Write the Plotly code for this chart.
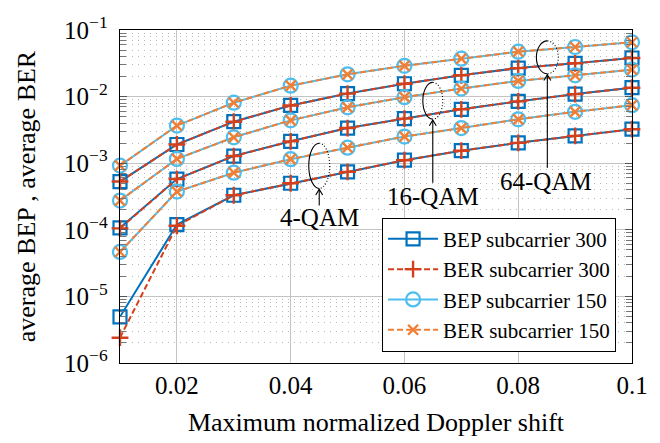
import plotly.graph_objects as go

# ---------------- data ----------------
doppler = [0.01, 0.02, 0.03, 0.04, 0.05, 0.06, 0.07, 0.08, 0.09, 0.10]

bep300_4qam = [4.94e-6, 1.20e-4, 3.30e-4, 5.0e-4, 7.4e-4, 1.11e-3, 1.54e-3, 2.02e-3, 2.57e-3, 3.24e-3]
ber300_4qam = [2.40e-6, 1.15e-4, 3.30e-4, 5.0e-4, 7.4e-4, 1.11e-3, 1.54e-3, 2.02e-3, 2.57e-3, 3.24e-3]
bep150_4qam = [4.65e-5, 3.75e-4, 7.2e-4, 1.15e-3, 1.71e-3, 2.51e-3, 3.37e-3, 4.56e-3, 5.91e-3, 7.43e-3]
ber150_4qam = [4.65e-5, 3.75e-4, 7.2e-4, 1.15e-3, 1.71e-3, 2.51e-3, 3.37e-3, 4.56e-3, 5.91e-3, 7.43e-3]

bep300_16qam = [1.07e-4, 5.78e-4, 1.28e-3, 2.13e-3, 3.37e-3, 4.67e-3, 6.45e-3, 8.47e-3, 1.09e-2, 1.36e-2]
ber300_16qam = [1.05e-4, 5.78e-4, 1.28e-3, 2.13e-3, 3.37e-3, 4.67e-3, 6.45e-3, 8.47e-3, 1.09e-2, 1.36e-2]
bep150_16qam = [2.75e-4, 1.16e-3, 2.45e-3, 4.4e-3, 6.9e-3, 9.8e-3, 1.32e-2, 1.72e-2, 2.09e-2, 2.54e-2]
ber150_16qam = [2.75e-4, 1.16e-3, 2.45e-3, 4.4e-3, 6.9e-3, 9.8e-3, 1.32e-2, 1.72e-2, 2.09e-2, 2.54e-2]

bep300_64qam = [5.3e-4, 1.91e-3, 4.2e-3, 7.36e-3, 1.11e-2, 1.56e-2, 2.09e-2, 2.68e-2, 3.16e-2, 3.8e-2]
ber300_64qam = [5.3e-4, 1.91e-3, 4.2e-3, 7.36e-3, 1.11e-2, 1.56e-2, 2.09e-2, 2.68e-2, 3.16e-2, 3.8e-2]
bep150_64qam = [9.2e-4, 3.67e-3, 8.1e-3, 1.46e-2, 2.16e-2, 2.9e-2, 3.71e-2, 4.72e-2, 5.56e-2, 6.55e-2]
ber150_64qam = [9.2e-4, 3.67e-3, 8.1e-3, 1.46e-2, 2.16e-2, 2.9e-2, 3.71e-2, 4.72e-2, 5.56e-2, 6.55e-2]

x_tickvals = [0.02, 0.04, 0.06, 0.08, 0.1]
x_ticktext = ["0.02", "0.04", "0.06", "0.08", "0.1"]
y_tickvals = [1e-6, 1e-5, 1e-4, 1e-3, 1e-2, 1e-1]
y_ticktext = ["10<sup>−6</sup>\u2005", "10<sup>−5</sup>\u2005", "10<sup>−4</sup>\u2005",
              "10<sup>−3</sup>\u2005", "10<sup>−2</sup>\u2005", "10<sup>−1</sup>\u2005"]

legend_names = ["BEP subcarrier 300", "BER subcarrier 300",
                "BEP subcarrier 150", "BER subcarrier 150"]
qam_labels = ["4-QAM", "16-QAM", "64-QAM"]

# ---------------- styles ----------------
FONT = "Liberation Serif"
C_BEP300 = "#0072BD"
C_BER300 = "#D4401C"
C_BEP150 = "#4DBEEE"
C_BER150 = "#F07F35"

series = [
    (legend_names[0], [bep300_4qam, bep300_16qam, bep300_64qam], C_BEP300, "solid", "square-open", 13, 2.2),
    (legend_names[1], [ber300_4qam, ber300_16qam, ber300_64qam], C_BER300, "6px,3px", "cross-thin-open", 12, 2.4),
    (legend_names[2], [bep150_4qam, bep150_16qam, bep150_64qam], C_BEP150, "solid", "circle-open", 14, 2.2),
    (legend_names[3], [ber150_4qam, ber150_16qam, ber150_64qam], C_BER150, "6px,3px", "x-thin-open", 10, 2.4),
]

fig = go.Figure()
for name, groups, color, dash, symbol, msize, mlw in series:
    for i, ys in enumerate(groups):
        fig.add_trace(go.Scatter(
            x=doppler, y=ys, mode="lines+markers", name=name,
            legendgroup=name, showlegend=(i == 0),
            line=dict(color=color, width=2, dash=dash),
            marker=dict(symbol=symbol, size=msize, color=color,
                        line=dict(color=color, width=mlw)),
            cliponaxis=False,
        ))

# ---------------- layout geometry (pixels) ----------------
W, H = 660, 443
L, R, T, B = 120, 26, 22, 68
PW, PH = W - L - R, H - T - B


def px(xp):
    return (xp - L) / PW


def py(yp):
    return (H - B - yp) / PH


shapes = []
K = 0.5523


def half_ellipse(cx, cy, rx, ry, side):
    s = -1 if side == "left" else 1
    pts = [
        (cx, cy - ry),
        (cx + s * K * rx, cy - ry), (cx + s * rx, cy - K * ry), (cx + s * rx, cy),
        (cx + s * rx, cy + K * ry), (cx + s * K * rx, cy + ry), (cx, cy + ry),
    ]
    p = [(px(a), py(b)) for a, b in pts]
    return ("M {:.5f},{:.5f} C {:.5f},{:.5f} {:.5f},{:.5f} {:.5f},{:.5f} "
            "C {:.5f},{:.5f} {:.5f},{:.5f} {:.5f},{:.5f}").format(*[v for q in p for v in q])


ellipses = [(320, 166, 10.5, 24, 208), (434, 97, 10, 19.5, 184), (549, 51, 11, 17.5, 168)]
for cx, cy, rx, ry, ystart in ellipses:
    shapes.append(dict(type="path", xref="paper", yref="paper",
                       path=half_ellipse(cx, cy, rx, ry, "left"),
                       line=dict(color="black", width=1.1)))
    shapes.append(dict(type="path", xref="paper", yref="paper",
                       path=half_ellipse(cx, cy, rx, ry, "right"),
                       line=dict(color="black", width=1.1, dash="1px,2px")))
    tip = cy + ry + 1
    shapes.append(dict(type="path", xref="paper", yref="paper",
                       path="M {:.5f},{:.5f} L {:.5f},{:.5f}".format(px(cx), py(ystart), px(cx), py(tip)),
                       line=dict(color="black", width=1.1)))
    shapes.append(dict(type="path", xref="paper", yref="paper",
                       path="M {:.5f},{:.5f} L {:.5f},{:.5f} L {:.5f},{:.5f}".format(
                           px(cx - 3.5), py(tip + 6), px(cx), py(tip), px(cx + 3.5), py(tip + 6)),
                       line=dict(color="black", width=1.1)))

label_pos = [(320, 221), (434, 198), (548, 183)]
annotations = []
for text, (lx, ly) in zip(qam_labels, label_pos):
    annotations.append(dict(text=text, xref="paper", yref="paper", x=px(lx), y=py(ly),
                            xanchor="center", yanchor="middle", showarrow=False,
                            font=dict(family=FONT, size=25, color="black")))

fig.update_layout(
    width=W, height=H, autosize=False,
    margin=dict(l=L, r=R, t=T, b=B, pad=0),
    paper_bgcolor="white", plot_bgcolor="white",
    font=dict(family=FONT, color="black"),
    showlegend=True,
    legend=dict(x=px(618), y=py(363), xanchor="right", yanchor="bottom",
                bgcolor="white", bordercolor="black", borderwidth=1,
                font=dict(family=FONT, size=21, color="black"),
                itemwidth=50, tracegroupgap=0),
    shapes=shapes, annotations=annotations,
)

fig.update_xaxes(
    range=[0.01, 0.1], tickmode="array", tickvals=x_tickvals, ticktext=x_ticktext,
    showgrid=True, gridcolor="#c4c4c4", gridwidth=1.2,
    showline=True, linecolor="black", linewidth=1.2, mirror=True,
    ticks="", tickfont=dict(family=FONT, size=25),
    zeroline=False,
    title=dict(text="Maximum normalized Doppler shift", font=dict(family=FONT, size=26), standoff=14),
)
fig.update_yaxes(
    type="log", range=[-6, -1], tickmode="array", tickvals=y_tickvals, ticktext=y_ticktext,
    showgrid=True, gridcolor="#c4c4c4", gridwidth=1.2,
    showline=True, linecolor="black", linewidth=1.2, mirror="allticks",
    ticks="inside", ticklen=7, tickcolor="#555", tickwidth=1,
    tickfont=dict(family=FONT, size=25),
    minor=dict(dtick="D1", ticks="inside", ticklen=6, tickcolor="#777", tickwidth=1,
               showgrid=True, gridcolor="#b8b8b8", gridwidth=1, griddash="1px,5px"),
    zeroline=False,
    title=dict(text="average BEP , average BER", font=dict(family=FONT, size=26), standoff=20),
)

fig.write_html("out.html")
